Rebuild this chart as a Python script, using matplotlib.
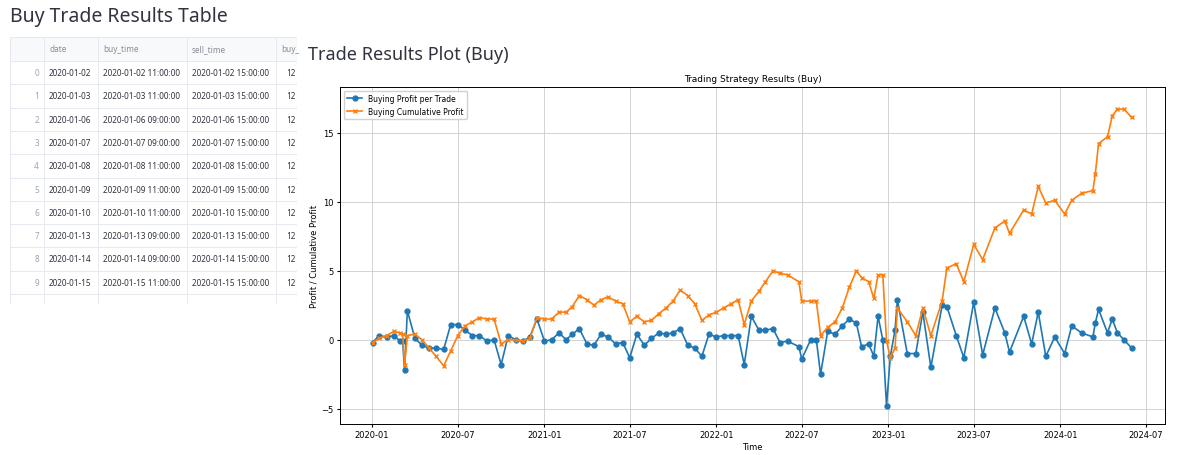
import numpy as np
import pandas as pd
import matplotlib
matplotlib.use('Agg')
import matplotlib.pyplot as plt
import matplotlib.dates as mdates

# cumulative profit (date, value)
cum_dates = ['2020-01-02', '2020-01-16', '2020-02-01', '2020-02-16', '2020-03-01', '2020-03-06',
             '2020-03-10', '2020-03-16', '2020-04-01', '2020-04-16', '2020-05-01', '2020-05-16',
             '2020-06-01', '2020-06-16', '2020-07-01', '2020-07-16', '2020-08-01', '2020-08-16',
             '2020-09-01', '2020-09-16', '2020-10-01', '2020-10-16', '2020-11-01', '2020-11-16',
             '2020-12-01', '2020-12-16', '2021-01-01', '2021-01-16', '2021-02-01', '2021-02-16',
             '2021-03-01', '2021-03-16', '2021-04-01', '2021-04-16', '2021-05-01', '2021-05-16',
             '2021-06-01', '2021-06-16', '2021-07-01', '2021-07-16', '2021-08-01', '2021-08-16',
             '2021-09-01', '2021-09-16', '2021-10-01', '2021-10-16', '2021-11-01', '2021-11-16',
             '2021-12-01', '2021-12-16', '2022-01-01', '2022-01-16', '2022-02-01', '2022-02-16',
             '2022-03-01', '2022-03-16', '2022-04-01', '2022-04-15', '2022-05-01', '2022-05-16',
             '2022-06-01', '2022-06-25', '2022-07-01', '2022-07-20', '2022-08-01', '2022-08-10',
             '2022-08-25', '2022-09-10', '2022-09-25', '2022-10-10', '2022-10-25', '2022-11-05',
             '2022-11-20', '2022-12-01', '2022-12-10', '2022-12-20', '2022-12-28', '2023-01-05',
             '2023-01-15', '2023-01-20', '2023-02-10', '2023-02-28', '2023-03-15', '2023-04-01',
             '2023-04-25', '2023-05-05', '2023-05-25', '2023-06-10', '2023-07-01', '2023-07-20',
             '2023-08-15', '2023-09-05', '2023-09-15', '2023-10-15', '2023-11-01', '2023-11-15',
             '2023-12-01', '2023-12-20', '2024-01-10', '2024-01-25', '2024-02-15', '2024-03-10',
             '2024-03-15', '2024-03-22', '2024-04-10', '2024-04-20', '2024-05-01', '2024-05-15',
             '2024-05-31']
cum_values = [-0.2, 0.1, 0.3, 0.6, 0.5, 0.4,
              -1.8, 0.3, 0.4, 0.0, -0.6, -1.2,
              -1.9, -0.8, 0.3, 1.0, 1.3, 1.6,
              1.5, 1.5, -0.3, 0.0, 0.0, -0.1,
              0.1, 1.6, 1.5, 1.5, 2.0, 2.0,
              2.4, 3.2, 2.9, 2.5, 2.9, 3.1,
              2.8, 2.6, 1.3, 1.7, 1.3, 1.4,
              1.9, 2.3, 2.8, 3.6, 3.2, 2.6,
              1.4, 1.8, 2.0, 2.3, 2.6, 2.9,
              1.1, 2.8, 3.5, 4.2, 5.0, 4.8,
              4.7, 4.2, 2.8, 2.8, 2.8, 0.3,
              0.9, 1.3, 2.3, 3.8, 5.0, 4.5,
              4.2, 3.0, 4.7, 4.7, -0.1, -1.3,
              -0.6, 2.3, 1.3, 0.3, 2.3, 0.3,
              2.8, 5.2, 5.5, 4.2, 6.9, 5.8,
              8.1, 8.6, 7.7, 9.4, 9.1, 11.1,
              9.9, 10.1, 9.1, 10.1, 10.6, 10.8,
              12.0, 14.2, 14.7, 16.2, 16.7, 16.7,
              16.1]

dates = pd.to_datetime(cum_dates)
cum = np.array(cum_values)
profit = np.diff(cum, prepend=0.0)

# table rows
tbl_idx = list(range(10))
tbl_date = ['2020-01-02', '2020-01-03', '2020-01-06', '2020-01-07', '2020-01-08',
            '2020-01-09', '2020-01-10', '2020-01-13', '2020-01-14', '2020-01-15']
tbl_buy_hour = ['11', '11', '09', '09', '11', '11', '11', '09', '09', '11']

plt.rcParams['font.family'] = ['DejaVu Sans']
fig = plt.figure(figsize=(12, 4.56), dpi=100)
W, H = 1200, 456

def fx(px):
    return px / W

def fy(py):
    return 1 - py / H

fig.text(fx(10), fy(17), 'Buy Trade Results Table', fontsize=14, color='#31333f',
         family='Noto Sans', va='center')
fig.text(fx(308), fy(55), 'Trade Results Plot (Buy)', fontsize=13, color='#31333f',
         family='Noto Sans', va='center')

# table drawn as text + lines
tab = fig.add_axes([fx(10), fy(305), fx(287), (305 - 38) / H])
tab.set_xlim(10, 297)
tab.set_ylim(305, 38)
tab.axis('off')
tab.add_patch(plt.Rectangle((10, 38), 287, 24, color='#f8f9fb', lw=0))
col_x = [10, 44, 98, 187, 276, 297]
for x in col_x[1:-1]:
    tab.plot([x, x], [38, 305], color='#e6e9ef', lw=0.7)
row_y = [38, 62] + [62 + 23.3 * (i + 1) for i in range(10)]
for y in row_y[1:]:
    tab.plot([10, 297], [y, y], color='#e6e9ef', lw=0.7)
tab.add_patch(plt.Rectangle((10, 38), 287, 267, fill=False, ec='#e6e9ef', lw=0.8))
hdr = ['date', 'buy_time', 'sell_time', 'buy_']
fs = 5.9
for x, h in zip(col_x[1:5], hdr):
    tab.text(x + 5, 50, h, fontsize=fs, color='#8a8d96', va='center', family='Noto Sans')
for i in tbl_idx:
    yc = 62 + 23.3 * i + 11.6
    tab.text(39, yc, str(i), fontsize=fs, color='#a0a3aa', va='center', ha='right', family='Noto Sans')
    tab.text(49, yc, tbl_date[i], fontsize=fs, color='#31333f', va='center', family='Noto Sans')
    tab.text(103, yc, f'{tbl_date[i]} {tbl_buy_hour[i]}:00:00', fontsize=fs, color='#31333f',
             va='center', family='Noto Sans')
    tab.text(192, yc, f'{tbl_date[i]} 15:00:00', fontsize=fs, color='#31333f',
             va='center', family='Noto Sans')
    tab.text(296, yc, '12', fontsize=fs, color='#31333f', va='center', ha='right', family='Noto Sans')

# main plot
ax = fig.add_axes([fx(340), fy(425), fx(1165 - 340), (425 - 88) / H])
ax.plot(dates, profit, marker='o', markersize=3.5, lw=1.2, color='#1f77b4',
        label='Buying Profit per Trade')
ax.plot(dates, cum, marker='x', markersize=3.5, lw=1.2, color='#ff7f0e',
        label='Buying Cumulative Profit')
ax.set_title('Trading Strategy Results (Buy)', fontsize=6.5, pad=4)
ax.set_xlabel('Time', fontsize=6, labelpad=2)
ax.set_ylabel('Profit / Cumulative Profit', fontsize=6, labelpad=2)
ax.set_ylim(-6.1, 18.3)
ax.set_yticks([-5, 0, 5, 10, 15])
ax.set_xlim(pd.Timestamp('2019-10-25'), pd.Timestamp('2024-08-10'))
ax.xaxis.set_major_locator(mdates.MonthLocator(bymonth=[1, 7]))
ax.xaxis.set_major_formatter(mdates.DateFormatter('%Y-%m'))
ax.tick_params(labelsize=6, length=2.5, pad=2)
ax.grid(True, color='#cccccc', lw=0.6)
ax.legend(loc='upper left', fontsize=5.5, framealpha=0.9)
for s in ax.spines.values():
    s.set_linewidth(0.7)

fig.savefig('out.png', dpi=100)
